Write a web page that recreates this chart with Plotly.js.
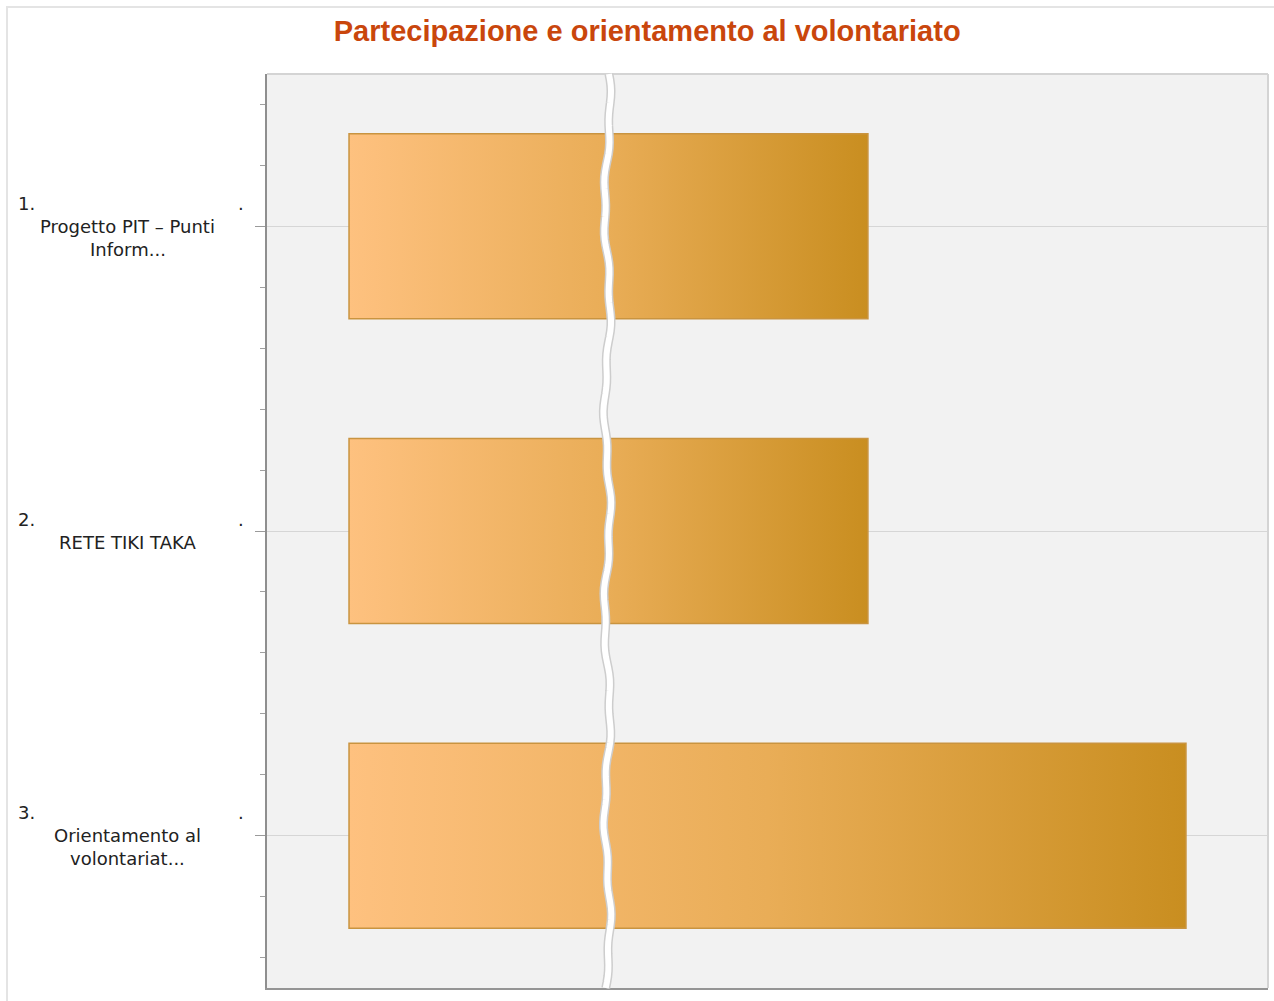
<!DOCTYPE html>
<html>
<head>
<meta charset="utf-8">
<script src="https://cdn.plot.ly/plotly-3.0.1.min.js"></script>
<style>
  html, body { margin: 0; padding: 0; background: #ffffff; }
  #wrap { position: relative; width: 1274px; height: 1001px; }
  #chart { width: 1274px; height: 1001px; }
  #frame { position: absolute; left: 6px; top: 6px; right: -10px; bottom: -10px;
           border-left: 2px solid #e4e4e4; border-top: 2px solid #e4e4e4; pointer-events: none; }
</style>
</head>
<body>
<div id="wrap">
  <div id="chart"></div>
  <div id="frame"></div>
</div>
<script>
// ---- data ----
const ranks = ["1.", "2.", "3."];
const categories = ["Progetto PIT – Punti<br>Inform...", "RETE TIKI TAKA", "Orientamento al<br>volontariat..."];
const values = [31, 31, 50];   // estimated (axis has a scale break, no tick labels)
const xRange = [-4.9, 54.9];
const breakPos = 0.34;          // paper position of the scale-break mark

// ---- build ----
const positions = categories.map((c, i) => i);

const trace = {
  type: "bar",
  orientation: "h",
  x: values,
  y: positions,
  marker: { color: "#E5A955", line: { color: "#C99440", width: 1.5 } },
  hoverinfo: "skip"
};

const labelFont = { family: "DejaVu Sans", size: 18, color: "#222" };
const annotations = [];
const lineH = 23;
categories.forEach((cat, i) => {
  const lines = cat.split("<br>");
  const n = lines.length;
  const top = -(n * lineH) / 2;
  annotations.push({
    xref: "paper", yref: "y", x: -0.251, y: positions[i], xanchor: "left", yanchor: "middle",
    text: ranks[i], showarrow: false, yshift: -top, font: labelFont
  });
  annotations.push({
    xref: "paper", yref: "y", x: -0.026, y: positions[i], xanchor: "center", yanchor: "middle",
    text: ".", showarrow: false, yshift: -top, font: labelFont
  });
  lines.forEach((ln, k) => {
    annotations.push({
      xref: "paper", yref: "y", x: -0.139, y: positions[i], xanchor: "center", yanchor: "middle",
      text: ln, showarrow: false, yshift: -(top + (k + 1) * lineH), font: labelFont
    });
  });
});

// scale-break wavy mark (decoration)
function wavePath() {
  const pts = [];
  const N = 160;
  for (let j = 0; j <= N; j++) {
    const t = j / N;
    const off = 0.0028 * Math.sin(t * Math.PI * 9 + 0.6) + 0.0012 * Math.sin(t * Math.PI * 31);
    pts.push((j === 0 ? "M" : "L") + (breakPos + off).toFixed(5) + "," + (1 - t).toFixed(5));
  }
  return pts.join(" ");
}
const wp = wavePath();

const layout = {
  width: 1274, height: 1001,
  margin: { l: 267, r: 6, t: 74, b: 13 },
  paper_bgcolor: "rgba(0,0,0,0)",
  plot_bgcolor: "#F2F2F2",
  showlegend: false,
  bargap: 0.393,
  title: {
    text: "Partecipazione e orientamento al volontariato",
    x: 0.508, xanchor: "center", y: 0.969, yanchor: "middle",
    font: { family: "Liberation Sans", size: 29, color: "#C9460C", weight: "bold" }
  },
  xaxis: {
    range: xRange, showticklabels: false, ticks: "", showgrid: false, zeroline: false,
    showline: true, linecolor: "#959595", linewidth: 2, fixedrange: true
  },
  yaxis: {
    range: [2.5, -0.5], tickmode: "array", tickvals: positions, showticklabels: false,
    ticks: "outside", ticklen: 10, tickcolor: "#9a9a9a", tickwidth: 1,
    showgrid: true, gridcolor: "#D6D6D6", gridwidth: 1, zeroline: false,
    showline: true, linecolor: "#8f8f8f", linewidth: 2,
    minor: { tickmode: "linear", tick0: 0, dtick: 0.2, ticks: "outside", ticklen: 5, tickcolor: "#a0a0a0", showgrid: false },
    fixedrange: true
  },
  shapes: [
    { type: "line", xref: "paper", yref: "paper", x0: 0, x1: 1, y0: 1, y1: 1, line: { color: "#D4D4D4", width: 2 }, layer: "above" },
    { type: "line", xref: "paper", yref: "paper", x0: 1, x1: 1, y0: 0, y1: 1, line: { color: "#D4D4D4", width: 2 }, layer: "above" },
    { type: "path", xref: "paper", yref: "paper", path: wp, line: { color: "#CDCDCD", width: 9 }, layer: "above" },
    { type: "path", xref: "paper", yref: "paper", path: wp, line: { color: "#FFFFFF", width: 6 }, layer: "above" }
  ],
  annotations: annotations
};

Plotly.newPlot("chart", [trace], layout, { displayModeBar: false, staticPlot: true }).then(() => {
  const svg = document.querySelector("#chart .main-svg");
  let defs = svg.querySelector("defs");
  const ns = "http://www.w3.org/2000/svg";
  const grad = document.createElementNS(ns, "linearGradient");
  grad.setAttribute("id", "barGrad");
  grad.setAttribute("x1", "0"); grad.setAttribute("y1", "0");
  grad.setAttribute("x2", "1"); grad.setAttribute("y2", "0");
  [["0", "#FEC17F"], ["0.5", "#E9AD57"], ["1", "#C98E20"]].forEach(([o, c]) => {
    const s = document.createElementNS(ns, "stop");
    s.setAttribute("offset", o); s.setAttribute("stop-color", c);
    grad.appendChild(s);
  });
  defs.appendChild(grad);
  document.querySelectorAll("#chart .bars .point path").forEach(p => {
    p.style.fill = "url(#barGrad)";
  });
});
</script>
</body>
</html>
